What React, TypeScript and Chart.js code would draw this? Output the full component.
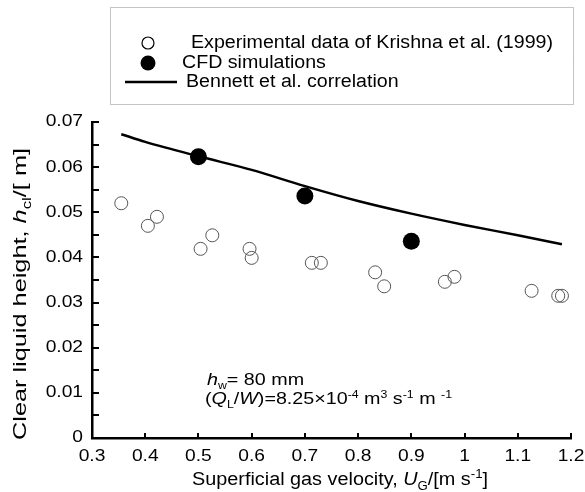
import React, { useEffect, useRef } from 'react';
import { Chart, registerables } from 'chart.js';

Chart.register(...registerables);

// ---- Data ----
const expU = [0.355, 0.405, 0.422, 0.504, 0.526, 0.596, 0.6, 0.713, 0.73, 0.832, 0.849, 0.963, 0.981, 1.126, 1.176, 1.183];
const expH = [0.052, 0.047, 0.049, 0.0419, 0.0449, 0.0419, 0.0399, 0.0388, 0.0388, 0.0367, 0.0336, 0.0346, 0.0357, 0.0326, 0.0315, 0.0315];
const cfdU = [0.5, 0.7, 0.9];
const cfdH = [0.0623, 0.0536, 0.0436];
const corrU = [0.355, 0.4, 0.5, 0.6, 0.7, 0.8, 0.9, 1.0, 1.1, 1.183];
const corrH = [0.0673, 0.0656, 0.0624, 0.0594, 0.0558, 0.0525, 0.0497, 0.0472, 0.0449, 0.0429];

const X_MIN = 0.3;
const X_MAX = 1.2;
const X_STEP = 0.1;
const Y_MIN = 0;
const Y_MAX = 0.07;
const Y_STEP = 0.01;
const Y_MINOR = 0.005;

const legendLabels = [
  'Experimental data of Krishna et al. (1999)',
  'CFD simulations',
  'Bennett et al. correlation',
];

const FONT = '"Liberation Sans", Arial, Helvetica, sans-serif';

type Part = { t: string; i?: boolean; sub?: boolean; sup?: boolean };

function fontFor(p: Part, size: number) {
  const s = p.sub || p.sup ? Math.round(size * 0.65) : size;
  return `${p.i ? 'italic ' : ''}${s}px ${FONT}`;
}

function naturalWidth(ctx: CanvasRenderingContext2D, parts: Part[], size: number) {
  let total = 0;
  parts.forEach((p) => {
    ctx.font = fontFor(p, size);
    total += ctx.measureText(p.t).width;
  });
  return total;
}

function drawRich(
  ctx: CanvasRenderingContext2D,
  parts: Part[],
  x: number,
  y: number,
  size: number,
  align: 'left' | 'center' | 'right',
  sx: number,
  baseline: CanvasTextBaseline = 'alphabetic'
) {
  ctx.save();
  ctx.textBaseline = baseline;
  ctx.textAlign = 'left';
  const widths = parts.map((p) => {
    ctx.font = fontFor(p, size);
    return ctx.measureText(p.t).width;
  });
  const total = widths.reduce((a, b) => a + b, 0);
  ctx.translate(x, y);
  ctx.scale(sx, 1);
  let cx = align === 'center' ? -total / 2 : align === 'right' ? -total : 0;
  parts.forEach((p, k) => {
    ctx.font = fontFor(p, size);
    const dy = p.sub ? size * 0.28 : p.sup ? -size * 0.4 : 0;
    ctx.fillText(p.t, cx, dy);
    cx += widths[k];
  });
  ctx.restore();
}

const xTitle: Part[] = [
  { t: 'Superficial gas velocity, ' },
  { t: 'U', i: true },
  { t: 'G', sub: true },
  { t: '/[m s' },
  { t: '-1', sup: true },
  { t: ']' },
];
const yTitle: Part[] = [
  { t: 'Clear liquid height, ' },
  { t: 'h', i: true },
  { t: 'cl', sub: true },
  { t: '/[ m]' },
];
const note1: Part[] = [{ t: 'h', i: true }, { t: 'w', sub: true }, { t: '= 80 mm' }];
const note2: Part[] = [
  { t: '(' },
  { t: 'Q', i: true },
  { t: 'L', sub: true },
  { t: '/' },
  { t: 'W', i: true },
  { t: ')=8.25×10' },
  { t: '-4', sup: true },
  { t: ' m' },
  { t: '3', sup: true },
  { t: ' s' },
  { t: '-1', sup: true },
  { t: ' m ' },
  { t: '-1', sup: true },
];

const fmt = (v: number) => String(Number(Number(v).toFixed(3)));

const TICK_SIZE = 16;
const TICK_SX = 1.2;

const decorPlugin = {
  id: 'decor',
  afterDraw(chart: any) {
    const ctx: CanvasRenderingContext2D = chart.ctx;
    const xs = chart.scales.x;
    const ys = chart.scales.y;
    const { left, bottom } = chart.chartArea;
    ctx.save();
    // inward ticks
    ctx.strokeStyle = '#000';
    ctx.lineWidth = 2;
    ctx.beginPath();
    const nY = Math.round((Y_MAX - Y_MIN) / Y_MINOR);
    for (let k = 0; k <= nY; k++) {
      const py = Math.round(ys.getPixelForValue(Y_MIN + k * Y_MINOR));
      ctx.moveTo(left, py);
      ctx.lineTo(left + 7, py);
    }
    xs.ticks.forEach((t: any) => {
      const px = Math.round(xs.getPixelForValue(t.value));
      ctx.moveTo(px, bottom);
      ctx.lineTo(px, bottom - 5);
    });
    ctx.stroke();

    ctx.fillStyle = '#000';
    // tick labels from the scales
    ys.ticks.forEach((t: any) => {
      const py = ys.getPixelForValue(t.value);
      drawRich(ctx, [{ t: fmt(t.value) }], left - 9, py, TICK_SIZE, 'right', TICK_SX, 'middle');
    });
    xs.ticks.forEach((t: any) => {
      const px = xs.getPixelForValue(t.value);
      drawRich(ctx, [{ t: fmt(t.value) }], px, bottom + 19, TICK_SIZE, 'center', TICK_SX, 'middle');
    });

    // axis titles
    const xsx = 296 / naturalWidth(ctx, xTitle, 18);
    drawRich(ctx, xTitle, 340, 485, 18, 'center', xsx);
    ctx.save();
    ctx.translate(26, 294);
    ctx.rotate(-Math.PI / 2);
    const ysx = 292 / naturalWidth(ctx, yTitle, 18);
    drawRich(ctx, yTitle, 0, 0, 18, 'center', ysx);
    ctx.restore();

    // annotation
    const nsx = 247 / naturalWidth(ctx, note2, 16);
    drawRich(ctx, note1, 207, 385, 16, 'left', nsx);
    drawRich(ctx, note2, 205, 404, 16, 'left', nsx);

    // legend box
    ctx.strokeStyle = '#888';
    ctx.lineWidth = 1;
    ctx.setLineDash([1, 1]);
    ctx.strokeRect(110.5, 7.5, 463, 97);
    ctx.setLineDash([]);

    ctx.strokeStyle = '#000';
    ctx.lineWidth = 1.2;
    ctx.beginPath();
    ctx.arc(148, 43, 6, 0, Math.PI * 2);
    ctx.stroke();
    ctx.beginPath();
    ctx.arc(148, 63, 7.5, 0, Math.PI * 2);
    ctx.fill();
    ctx.lineWidth = 2.5;
    ctx.beginPath();
    ctx.moveTo(125, 82);
    ctx.lineTo(177, 82);
    ctx.stroke();

    const lsx = 362 / naturalWidth(ctx, [{ t: legendLabels[0] }], 18);
    drawRich(ctx, [{ t: legendLabels[0] }], 191, 43, 18, 'left', lsx, 'middle');
    drawRich(ctx, [{ t: legendLabels[1] }], 182, 63, 18, 'left', lsx, 'middle');
    drawRich(ctx, [{ t: legendLabels[2] }], 186, 82, 18, 'left', lsx, 'middle');
    ctx.restore();
  },
};

export default function App() {
  const ref = useRef<HTMLCanvasElement | null>(null);
  useEffect(() => {
    if (!ref.current) return;
    const chart = new Chart(ref.current, {
      type: 'scatter',
      data: {
        datasets: [
          {
            label: legendLabels[1],
            data: cfdU.map((u, k) => ({ x: u, y: cfdH[k] })),
            pointRadius: 8.5,
            pointBackgroundColor: '#000',
            pointBorderColor: '#000',
            pointBorderWidth: 0,
            showLine: false,
          },
          {
            label: legendLabels[2],
            type: 'line',
            data: corrU.map((u, k) => ({ x: u, y: corrH[k] })),
            borderColor: '#000',
            borderWidth: 2.5,
            pointRadius: 0,
            cubicInterpolationMode: 'monotone',
            fill: false,
          },
          {
            label: legendLabels[0],
            data: expU.map((u, k) => ({ x: u, y: expH[k] })),
            pointRadius: 6.5,
            pointBackgroundColor: 'rgba(0,0,0,0)',
            pointBorderColor: '#555',
            pointBorderWidth: 1,
            showLine: false,
          },
        ],
      } as any,
      options: {
        responsive: false,
        animation: false,
        events: [],
        layout: { padding: { top: 122, right: 14, left: 0, bottom: 0 } },
        plugins: { legend: { display: false }, tooltip: { enabled: false } },
        scales: {
          x: {
            type: 'linear',
            min: X_MIN,
            max: X_MAX,
            grid: { display: false, drawTicks: false },
            border: { display: true, color: '#000', width: 2.5 },
            ticks: { stepSize: X_STEP, display: false },
            afterFit: (s: any) => {
              s.height = 54;
            },
          },
          y: {
            type: 'linear',
            min: Y_MIN,
            max: Y_MAX,
            grid: { display: false, drawTicks: false },
            border: { display: true, color: '#000', width: 2.5 },
            ticks: { stepSize: Y_STEP, display: false },
            afterFit: (s: any) => {
              s.width = 92;
            },
          },
        },
      } as any,
      plugins: [decorPlugin],
    });
    return () => chart.destroy();
  }, []);
  return (
    <div style={{ position: 'absolute', left: 0, top: 0, width: 585, height: 492, background: '#fff' }}>
      <canvas ref={ref} width={585} height={492} style={{ width: 585, height: 492, display: 'block' }} />
    </div>
  );
}
